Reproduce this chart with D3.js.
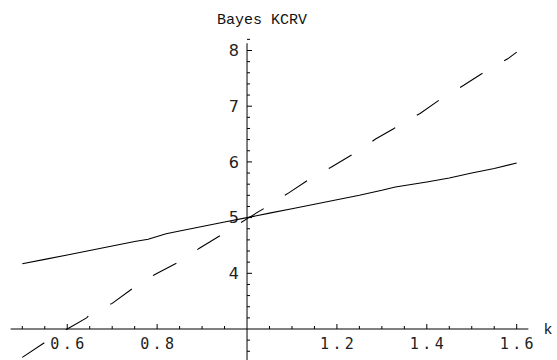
<!DOCTYPE html>
<html lang="en">
<head>
<meta charset="UTF-8">
<title>Bayes KCRV</title>
<script src="https://d3js.org/d3.v7.min.js"></script>
<style>
  body { margin: 0; background: #fff; }
  .num { font-family: "DejaVu Sans Mono", monospace; font-size: 15px; fill: #222; }
  .ylab { font-family: "DejaVu Sans", sans-serif; font-size: 16px; fill: #222; }
  .title { font-family: "Liberation Mono", monospace; font-size: 15px; fill: #111; }
</style>
</head>
<body>
<div id="chart"></div>
<script>
// data
const solidK = [0.5, 0.55, 0.6, 0.65, 0.7, 0.75, 0.78, 0.82, 0.85, 0.9, 0.95, 1.0,
                1.05, 1.1, 1.15, 1.2, 1.25, 1.3, 1.33, 1.4, 1.45, 1.5, 1.55, 1.6];
const solidV = [4.17, 4.25, 4.33, 4.41, 4.49, 4.57, 4.61, 4.71, 4.76, 4.84, 4.92, 5.0,
                5.08, 5.16, 5.24, 5.32, 5.40, 5.49, 5.55, 5.64, 5.71, 5.80, 5.88, 5.98];
const dashK = [0.5, 0.55, 0.6, 0.643, 0.65, 0.7, 0.746, 0.795, 0.845, 0.894, 0.945, 1.004,
               1.043, 1.092, 1.139, 1.186, 1.238, 1.286, 1.327, 1.337, 1.385, 1.433,
               1.483, 1.531, 1.58, 1.6];
const dashV = [2.49, 2.76, 3.0, 3.2, 3.26, 3.46, 3.73, 3.98, 4.19, 4.45, 4.70, 5.0,
               5.19, 5.44, 5.69, 5.90, 6.15, 6.41, 6.60, 6.66, 6.87, 7.14,
               7.38, 7.63, 7.85, 7.97];
const xTickLabels = [0.6, 0.8, 1.2, 1.4, 1.6];
const yTickLabels = [4, 5, 6, 7, 8];

const width = 557, height = 360;

const svg = d3.select("#chart").append("svg")
  .attr("width", width).attr("height", height);

const x = d3.scaleLinear().domain([0.5, 1.6]).range([22.3, 516.7]);
const y = d3.scaleLinear().domain([3, 8]).range([329, 50.5]);

const x0 = x(1), y0 = y(3);

// axis lines
svg.append("line").attr("x1", x(0.474)).attr("x2", x(1.626))
  .attr("y1", y0).attr("y2", y0).attr("stroke", "#000");
svg.append("line").attr("x1", x0).attr("x2", x0)
  .attr("y1", y(8.13)).attr("y2", height).attr("stroke", "#000");

// x ticks
const xMinor = d3.range(0, 23).map(i => +(0.5 + i * 0.05).toFixed(2)).filter(v => v !== 1);
svg.append("g").selectAll("line").data(xMinor).join("line")
  .attr("x1", d => x(d)).attr("x2", d => x(d))
  .attr("y1", y0)
  .attr("y2", d => y0 - (xTickLabels.includes(d) ? 5 : 3))
  .attr("stroke", "#000");
svg.append("g").selectAll("text").data(xTickLabels).join("text")
  .attr("class", "num")
  .attr("x", d => x(d) + 1.7)
  .attr("y", y0 + 20)
  .attr("text-anchor", "middle")
  .attr("letter-spacing", 3.4)
  .text(d => d3.format(".1f")(d));

// y ticks
const yMinor = d3.range(0, 29).map(i => +(2.6 + i * 0.2).toFixed(1)).filter(v => v !== 3);
svg.append("g").selectAll("line").data(yMinor).join("line")
  .attr("y1", d => y(d)).attr("y2", d => y(d))
  .attr("x1", x0)
  .attr("x2", d => x0 + (yTickLabels.includes(d) ? 5 : 3))
  .attr("stroke", "#000");
svg.append("g").selectAll("text").data(yTickLabels).join("text")
  .attr("class", "ylab")
  .attr("x", x0 - 8)
  .attr("y", d => y(d))
  .attr("dy", "0.36em")
  .attr("text-anchor", "end")
  .text(d => d);

// axis label and title
svg.append("text").attr("class", "title")
  .attr("x", x(1.626) + 15).attr("y", y0).attr("dy", "0.3em")
  .text("k");
svg.append("text").attr("class", "title")
  .attr("x", 262).attr("y", 24).attr("text-anchor", "middle")
  .text("Bayes KCRV");

// curves
const line = d3.line().x(d => x(d[0])).y(d => y(d[1]));
svg.append("path")
  .datum(solidK.map((k, i) => [k, solidV[i]]))
  .attr("d", line).attr("fill", "none").attr("stroke", "#000").attr("stroke-width", 1.1);
svg.append("path")
  .datum(dashK.map((k, i) => [k, dashV[i]]))
  .attr("d", line).attr("fill", "none").attr("stroke", "#000").attr("stroke-width", 1.1)
  .attr("stroke-dasharray", "26.5,25");
</script>
</body>
</html>
